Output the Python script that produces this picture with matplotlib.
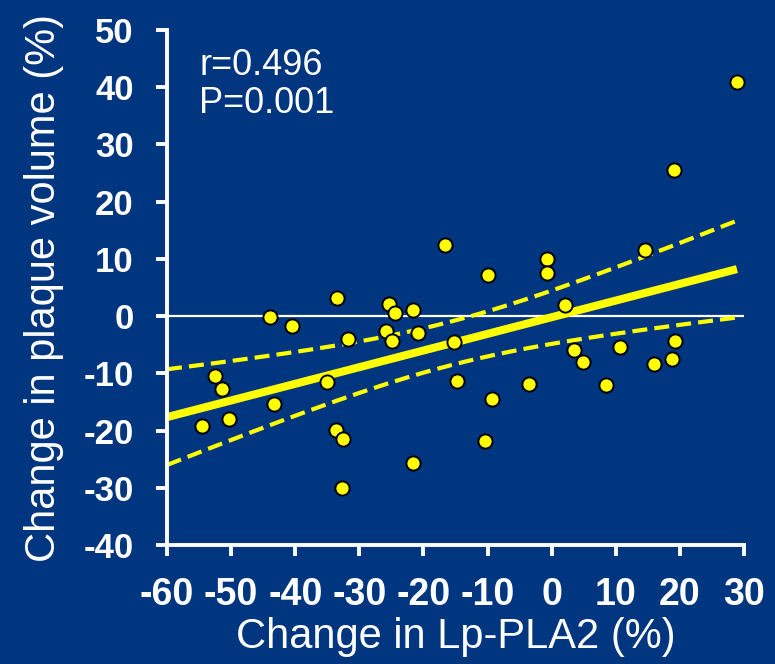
import numpy as np
import matplotlib
matplotlib.use("Agg")
import matplotlib.pyplot as plt

plt.rcParams["axes.unicode_minus"] = False

# Percent change in Lp-PLA2 vs percent change in plaque volume
lp_pla2_change = [
    -16.6, -33.5, -25.4, -24.5, -21.7, -43.9, -40.5, -31.7, -25.8, -24.9,
    -20.8, -15.2, -52.5, -51.4, -35.0, -14.7, -43.3, -54.5, -50.3, -33.6,
    -32.5, -21.7, -32.7, 19.1, -9.9, -0.7, -0.7, 14.5, 2.1, 3.5,
    4.9, 10.7, 19.3, 15.9, 18.7, -3.6, 8.5, -9.3, -10.4, 28.9,
]
plaque_volume_change = [
    12.4, 3.1, 2.1, 0.6, 1.0, -0.2, -1.75, -4.0, -2.6, -4.4,
    -3.0, -4.5, -10.4, -12.8, -11.5, -11.4, -15.4, -19.2, -18.0, -19.9,
    -21.5, -25.7, -30.0, 25.5, 7.2, 10.0, 7.5, 11.5, 1.9, -5.9,
    -8.0, -5.4, -4.4, -8.4, -7.5, -11.9, -12.1, -14.4, -21.9, 40.9,
]
stats_text = ["r=0.496", "P=0.001"]
x_ticks = [-60, -50, -40, -30, -20, -10, 0, 10, 20, 30]
y_ticks = [-40, -30, -20, -10, 0, 10, 20, 30, 40, 50]

x = np.array(lp_pla2_change)
y = np.array(plaque_volume_change)

# least-squares fit with 95% confidence band of the mean
n = len(x)
slope, intercept = np.polyfit(x, y, 1)
resid = y - (slope * x + intercept)
s = np.sqrt(np.sum(resid ** 2) / (n - 2))
sxx = np.sum((x - x.mean()) ** 2)
t_crit = 2.024
xf = np.linspace(x_ticks[0], x.max(), 200)
yf = slope * xf + intercept
half = t_crit * s * np.sqrt(1.0 / n + (xf - x.mean()) ** 2 / sxx)

bg = "#003580"
fig = plt.figure(figsize=(7.75, 6.64), dpi=100, facecolor=bg)
ax = fig.add_axes([0.2155, 0.1792, 0.7445, 0.7756])
ax.set_facecolor(bg)

ax.axhline(0, color="white", lw=1.6, zorder=1)
ax.plot(xf, yf, color="#ffff00", lw=5.8, solid_capstyle="butt", zorder=2)
ax.plot(xf, yf + half, color="#ffff00", lw=3, dashes=(3.6, 1.7), zorder=2)
ax.plot(xf, yf - half, color="#ffff00", lw=3, dashes=(3.6, 1.7), zorder=2)
ax.plot(x, y, "o", ms=10.2, mfc="#ffff00", mec="black", mew=1.4,
        linestyle="none", zorder=3, clip_on=False)

ax.set_xlim(x_ticks[0], x_ticks[-1])
ax.set_ylim(y_ticks[0], y_ticks[-1])
ax.set_xticks(x_ticks)
ax.set_yticks(y_ticks)

for side in ["top", "right"]:
    ax.spines[side].set_visible(False)
for side in ["left", "bottom"]:
    ax.spines[side].set_color("white")
    ax.spines[side].set_linewidth(2.8)

ax.tick_params(axis="both", colors="white", direction="out", length=8, width=2.8)
ax.tick_params(axis="x", pad=15)
ax.tick_params(axis="y", pad=16)
for lab in ax.get_xticklabels():
    lab.set_fontfamily("Liberation Sans")
    lab.set_fontweight("bold")
    lab.set_fontsize(27)
    lab.set_color("white")
for lab in ax.get_yticklabels():
    lab.set_fontfamily("Liberation Sans")
    lab.set_fontweight("bold")
    lab.set_fontsize(25)
    lab.set_color("white")

ax.set_xlabel("Change in Lp-PLA2 (%)", fontfamily="Liberation Sans",
              fontsize=30, color="white", labelpad=3)
ax.set_ylabel("Change in plaque volume (%)", fontfamily="Liberation Sans",
              fontsize=30, color="white", labelpad=14)

ax.text(-55.0, 42.1, stats_text[0], fontfamily="Liberation Sans", fontsize=26,
        color="white", va="baseline", ha="left")
ax.text(-55.0, 35.5, stats_text[1], fontfamily="Liberation Sans", fontsize=26,
        color="white", va="baseline", ha="left")

fig.savefig("out.png", dpi=100, facecolor=bg)
